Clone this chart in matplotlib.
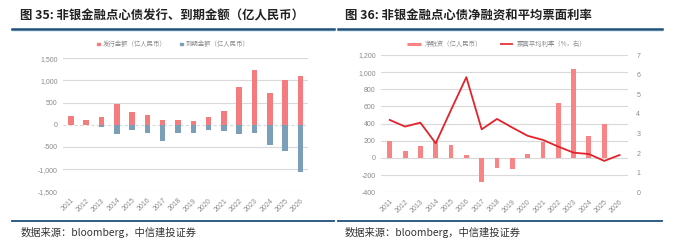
import matplotlib
matplotlib.use("Agg")
import matplotlib.pyplot as plt
from matplotlib.lines import Line2D
from matplotlib.patches import Rectangle
import numpy as np

plt.rcParams['font.family'] = ['Noto Sans CJK SC', 'DejaVu Sans']

years = [str(y) for y in range(2011, 2027)]
issuance = [190, 100, 180, 480, 280, 220, 100, 100, 80, 165, 310, 855, 1245, 720, 1000, 1090]
maturity = [0, -10, -45, -210, -120, -180, -360, -195, -195, -120, -130, -215, -195, -455, -590, -1070]
net_financing = [195, 77, 135, 190, 155, 40, -275, -117, -125, 47, 182, 635, 1040, 255, 400, 0]
coupon_rate = [3.69, 3.35, 3.55, 2.5, 4.2, 5.87, 3.21, 3.74, 3.3, 2.88, 2.67, 2.33, 2.02, 1.95, 1.6, 1.9]

left_ticks = [-1500, -1000, -500, 0, 500, 1000, 1500]
right_left_ticks = [-400, -200, 0, 200, 400, 600, 800, 1000, 1200]
right_right_ticks = list(range(0, 8))

W, H = 677, 249
fig = plt.figure(figsize=(W / 100, H / 100), dpi=100)

def px_axes(x0, y0, x1, y1):
    return fig.add_axes([x0 / W, 1 - y1 / H, (x1 - x0) / W, (y1 - y0) / H])

RED1 = '#F47B7E'
BLUE1 = '#7C9FB9'
PINK2 = '#F88486'
RED2 = '#E3222B'
GRID = '#D9D9D9'
TICK = '#8A8A8A'
NAVY = '#1F4E79'
num_font = ['Liberation Sans', 'DejaVu Sans']

# Header / footer decorations
fig.text(20 / W, 1 - 16 / H, '图 35: 非银金融点心债发行、到期金额（亿人民币）', fontsize=8.9,
         fontweight='bold', va='center', ha='left', color='#222222')
fig.text(345 / W, 1 - 16 / H, '图 36: 非银金融点心债净融资和平均票面利率', fontsize=8.9,
         fontweight='bold', va='center', ha='left', color='#222222')
for (a, b) in [(12, 334), (338, 662)]:
    fig.add_artist(Line2D([a / W, b / W], [1 - 29 / H, 1 - 29 / H], color=NAVY, lw=1.8))
    fig.add_artist(Line2D([a / W, b / W], [1 - 31.5 / H, 1 - 31.5 / H], color='#DDEFF8', lw=0.8))
    fig.add_artist(Line2D([a / W, b / W], [1 - 220.5 / H, 1 - 220.5 / H], color=NAVY, lw=1.3))
fig.text(21 / W, 1 - 232 / H, '数据来源：bloomberg，中信建投证券', fontsize=7.4, style='italic',
         va='center', ha='left', color='#333333')
fig.text(345 / W, 1 - 232 / H, '数据来源：bloomberg，中信建投证券', fontsize=7.4, style='italic',
         va='center', ha='left', color='#333333')

x = np.arange(len(years))

# Chart 1
ax1 = px_axes(63.3, 58.3, 308, 191.3)
ax1.set_ylim(-1500, 1500)
ax1.set_xlim(-0.5, len(years) - 0.5)
for v in left_ticks:
    if v == 0:
        ax1.axhline(v, color=GRID, lw=0.8, ls=(0, (3, 2)), zorder=0)
    else:
        ax1.axhline(v, color=GRID, lw=0.8, zorder=0)
ax1.bar(x, issuance, width=0.36, color=RED1, zorder=2)
ax1.bar(x, maturity, width=0.36, color=BLUE1, zorder=2)
ax1.set_yticks(left_ticks)
ax1.set_yticklabels([f'{v:,}' for v in left_ticks], fontsize=5, color=TICK, family=num_font)
ax1.set_xticks(x)
ax1.set_xticklabels(years, rotation=45, ha='right', rotation_mode='anchor', fontsize=5,
                    color=TICK, family=num_font)
ax1.tick_params(length=0, pad=4)
for s in ax1.spines.values():
    s.set_visible(False)
ax1.set_facecolor('none')

# Legend chart 1
fig.add_artist(Rectangle((97 / W, 1 - 45.3 / H), 2.6 / W, 2.6 / H, color=RED1))
fig.text(102.5 / W, 1 - 44 / H, '发行金额（亿人民币）', fontsize=4.6, color=TICK, va='center', ha='left')
fig.add_artist(Rectangle((180 / W, 1 - 45.3 / H), 2.6 / W, 2.6 / H, color=BLUE1))
fig.text(185.5 / W, 1 - 44 / H, '到期金额（亿人民币）', fontsize=4.6, color=TICK, va='center', ha='left')

# Chart 2
ax2 = px_axes(381.3, 55, 628, 192.3)
ax2.set_ylim(-400, 1200)
ax2.set_xlim(-0.55, len(years) - 0.45)
for v in right_left_ticks:
    ax2.axhline(v, color=GRID, lw=0.8, zorder=0)
ax2.bar(x, net_financing, width=0.32, color=PINK2, zorder=2)
ax2.set_yticks(right_left_ticks)
ax2.set_yticklabels([f'{v:,}' for v in right_left_ticks], fontsize=5, color=TICK, family=num_font)
ax2.set_xticks(x)
ax2.set_xticklabels(years, rotation=45, ha='right', rotation_mode='anchor', fontsize=5,
                    color=TICK, family=num_font)
ax2.tick_params(length=0, pad=4)
for s in ax2.spines.values():
    s.set_visible(False)
ax2.set_facecolor('none')

ax3 = ax2.twinx()
ax3.set_ylim(0, 7)
ax3.plot(x, coupon_rate, color=RED2, lw=1.3, zorder=3)
ax3.set_yticks(right_right_ticks)
ax3.set_yticklabels([str(v) for v in right_right_ticks], fontsize=5, color=TICK, family=num_font)
ax3.tick_params(length=0, pad=6)
for s in ax3.spines.values():
    s.set_visible(False)

# Legend chart 2
fig.add_artist(Line2D([407 / W, 421 / W], [1 - 44 / H, 1 - 44 / H], color=PINK2, lw=2.2,
                      solid_capstyle='butt'))
fig.text(425 / W, 1 - 44 / H, '净融资（亿人民币）', fontsize=4.6, color=TICK, va='center', ha='left')
fig.add_artist(Line2D([500 / W, 513 / W], [1 - 44 / H, 1 - 44 / H], color=RED2, lw=1.2,
                      solid_capstyle='butt'))
fig.text(517 / W, 1 - 44 / H, '票面平均利率（%，右）', fontsize=4.6, color=TICK, va='center', ha='left')

fig.savefig('out.png', dpi=100)
